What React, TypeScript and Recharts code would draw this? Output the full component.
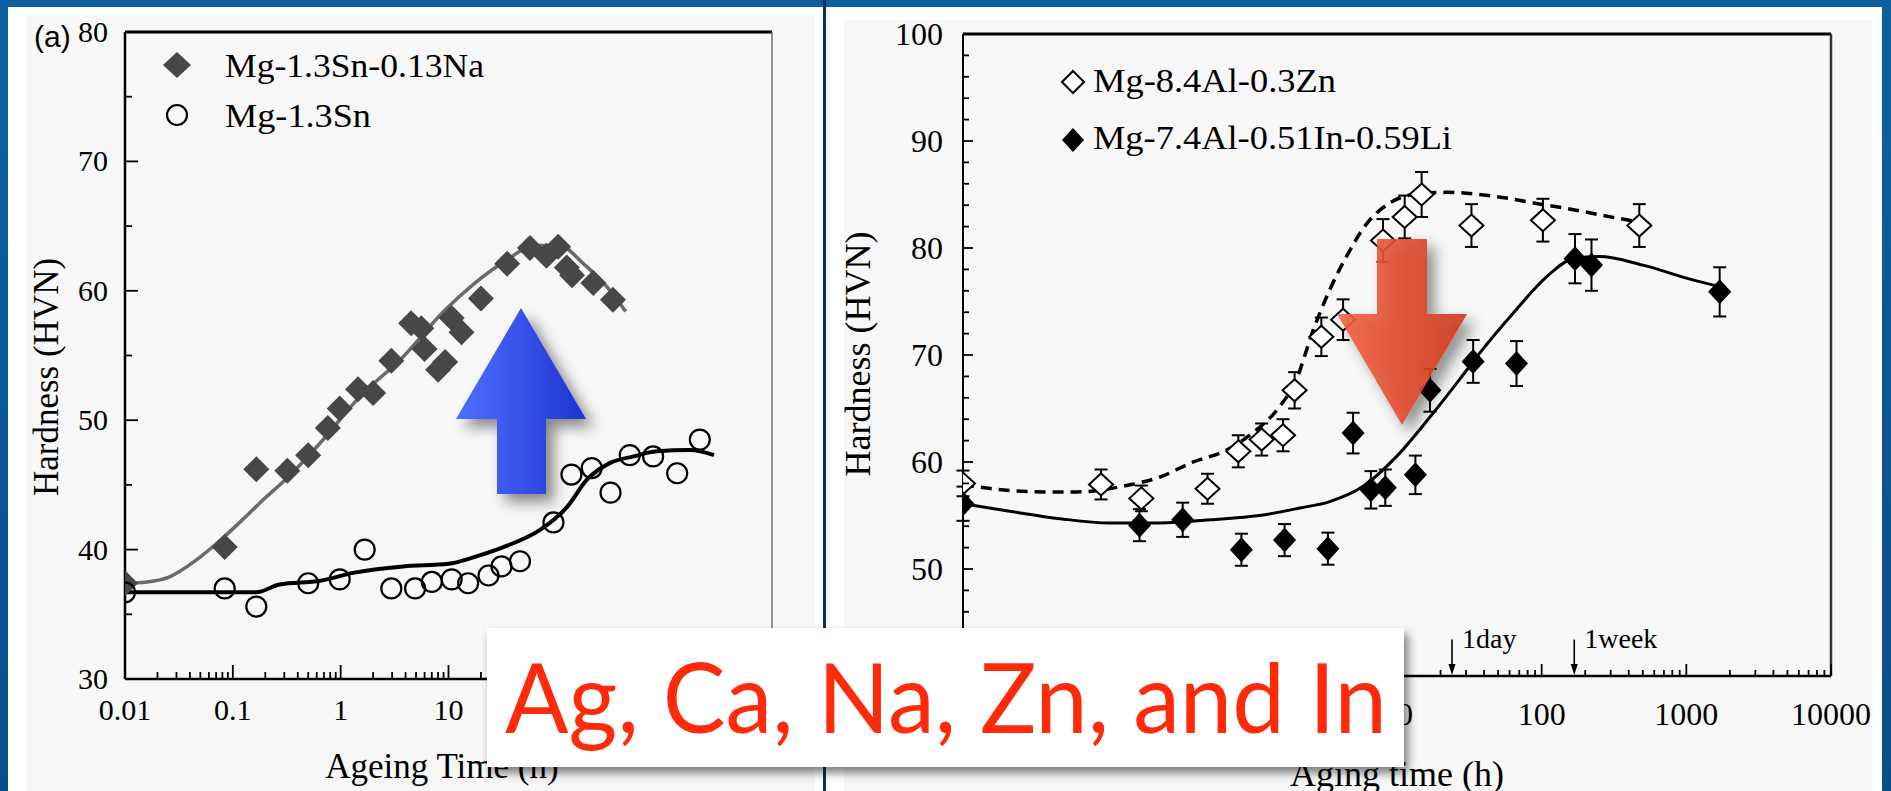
import React from "react";
import { ComposedChart, Line, Scatter, XAxis, YAxis, ErrorBar, ReferenceLine, Legend } from "recharts";

const SERIF = '"Liberation Serif", "Times New Roman", serif';
const SANS = '"Liberation Sans", Arial, sans-serif';

// Mg-1.3Sn-0.13Na: measured hardness vs ageing time (h)
const naTime = [0.01, 0.084, 0.165, 0.32, 0.5, 0.76, 0.98, 1.45, 2.0, 2.95, 4.5, 5.6, 6.0, 8.0, 9.3, 10.7, 13.2, 20, 35, 57, 81, 104, 125, 140, 220, 335];
const naHv = [37.4, 40.2, 46.2, 46.1, 47.3, 49.4, 50.9, 52.4, 52.1, 54.6, 57.5, 57.1, 55.5, 53.9, 54.5, 57.9, 56.8, 59.4, 62.1, 63.3, 62.7, 63.4, 61.8, 61.2, 60.6, 59.3];
const naFitTime = [0.01, 0.016, 0.026, 0.046, 0.076, 0.13, 0.2, 0.29, 0.64, 1.5, 3.8, 9, 17, 35, 62, 107, 178, 295, 440];
const naFitHv = [37.4, 37.5, 37.9, 39.2, 40.7, 42.5, 44.0, 45.2, 48.2, 51.8, 54.9, 58.4, 60.5, 62.4, 63.5, 63.5, 62.1, 60.3, 58.4];

// Mg-1.3Sn
const snTime = [0.01, 0.084, 0.165, 0.5, 0.98, 1.67, 2.95, 4.9, 7.0, 10.7, 15.2, 23.5, 31, 46, 94, 138, 213, 318, 480, 790, 1320, 2140];
const snHv = [36.7, 37.0, 35.6, 37.4, 37.7, 40.0, 37.0, 37.0, 37.5, 37.7, 37.4, 38.0, 38.7, 39.1, 42.1, 45.8, 46.3, 44.4, 47.3, 47.2, 45.9, 48.5];
const snFitTime = [0.01, 0.165, 0.27, 0.65, 1.3, 3.8, 10, 17, 35, 70, 126, 192, 316, 520, 850, 1740, 2900];
const snFitHv = [36.7, 36.7, 37.3, 37.6, 38.2, 38.7, 38.9, 39.4, 40.3, 41.5, 43.3, 45.4, 46.7, 47.2, 47.6, 47.7, 47.3];

// Mg-8.4Al-0.3Zn (with error bars)
const znTime = [0.01, 0.09, 0.171, 0.49, 0.8, 1.16, 1.63, 1.96, 3.0, 4.24, 8.0, 11.3, 14.8, 32.7, 102, 473];
const znHv = [58.0, 57.9, 56.6, 57.5, 61.0, 62.1, 62.5, 66.7, 71.7, 73.3, 80.7, 82.9, 85.0, 82.1, 82.6, 82.1];
const znErr = [1.2, 1.4, 1.2, 1.4, 1.5, 1.5, 1.5, 1.7, 1.8, 1.9, 2.0, 2.0, 2.1, 2.0, 2.0, 2.0];
const znFitTime = [0.01, 0.016, 0.036, 0.061, 0.135, 0.23, 0.39, 0.66, 1.0, 1.55, 2.0, 2.63, 3.43, 4.47, 6.2, 8.9, 12.9, 22, 48.7, 108, 148, 330, 550];
const znFitHv = [57.9, 57.5, 57.2, 57.2, 57.8, 58.6, 60.0, 61.1, 62.7, 65.2, 67.6, 72.3, 76.1, 79.2, 82.3, 84.2, 85.0, 85.2, 84.8, 84.0, 83.7, 82.8, 82.3];

// Mg-7.4Al-0.51In-0.59Li
const liTime = [0.01, 0.166, 0.33, 0.84, 1.67, 3.33, 4.97, 6.6, 8.3, 13.4, 16.9, 33.6, 67, 170, 221, 1700];
const liHv = [56.1, 54.1, 54.6, 51.8, 52.7, 51.9, 62.7, 57.4, 57.6, 58.8, 66.7, 69.4, 69.2, 79.0, 78.4, 75.9];
const liErr = [1.6, 1.5, 1.6, 1.5, 1.5, 1.5, 1.9, 1.75, 1.7, 1.8, 2.0, 2.0, 2.1, 2.3, 2.4, 2.3];
const liFitTime = [0.01, 0.021, 0.047, 0.103, 0.23, 0.51, 1.12, 2.13, 3.43, 5.8, 9.9, 16.9, 27, 37.4, 63.5, 108, 165, 251, 500, 1120, 1700];
const liFitHv = [56.1, 55.4, 54.7, 54.3, 54.3, 54.6, 55.0, 55.7, 56.3, 57.7, 60.5, 64.2, 67.7, 70.2, 73.9, 77.3, 79.0, 79.2, 78.4, 77.0, 76.4];

// axes
const DECADES = [0.01, 0.1, 1, 10, 100, 1000, 10000];
const DECADE_LABELS = ["0.01", "0.1", "1", "10", "100", "1000", "10000"];
const MINOR_STEPS = [2, 3, 4, 5, 6, 7, 8, 9];
const X_TICKS = [
  ...DECADES,
  ...DECADES.slice(0, -1).flatMap((d) => MINOR_STEPS.map((m) => +(m * d).toPrecision(3))),
].sort((a, b) => a - b);
const LEFT_Y_TICKS = [30, 35, 40, 45, 50, 55, 60, 65, 70, 75, 80];
const RIGHT_Y_TICKS = [40, 42, 44, 46, 48, 50, 52, 54, 56, 58, 60, 62, 64, 66, 68, 70, 72, 74, 76, 78, 80, 82, 84, 86, 88, 90, 92, 94, 96, 98, 100];
// labels that sit under the caption box are left out
const LEFT_X_UNLABELED = [100, 1000, 10000];
const RIGHT_X_UNLABELED = [0.01, 0.1, 1];
const RIGHT_Y_UNLABELED = [40];
const MARK_TIMES = [24, 168];
const MARK_LABELS = ["1day", "1week"];

const pts = (t: number[], hv: number[], err?: number[]) =>
  t.map((v, i) => ({ t: v, hv: hv[i], err: err ? err[i] : 0 }));

const naPts = pts(naTime, naHv);
const naFit = pts(naFitTime, naFitHv);
const snPts = pts(snTime, snHv);
const snFit = pts(snFitTime, snFitHv);
const znPts = pts(znTime, znHv, znErr);
const znFit = pts(znFitTime, znFitHv);
const liPts = pts(liTime, liHv, liErr);
const liFit = pts(liFitTime, liFitHv);

const TICK_MARGIN = 10;

function XTick(props: any) {
  const { x = 0, y = 0, payload, majorLen, minorLen, fontSize, baseline, unlabeled = [] } = props;
  const v = payload.value;
  const idx = DECADES.findIndex((d) => Math.abs(d - v) / d < 1e-6);
  const axisY = y - TICK_MARGIN;
  const showLabel = idx >= 0 && !unlabeled.includes(DECADES[idx]);
  return (
    <g>
      <line x1={x} x2={x} y1={axisY} y2={axisY - (idx >= 0 ? majorLen : minorLen)} stroke="#000" strokeWidth={1.8} />
      {showLabel && (
        <text x={x} y={axisY + baseline} textAnchor="middle" fontFamily={SERIF} fontSize={fontSize} fill="#000">
          {DECADE_LABELS[idx]}
        </text>
      )}
    </g>
  );
}

function YTick(props: any) {
  const { x = 0, y = 0, payload, gap, majorLen, minorLen, fontSize, unlabeled = [] } = props;
  const v = payload.value;
  const major = v % 10 === 0;
  const axisX = x + gap;
  return (
    <g>
      <line x1={axisX} x2={axisX + (major ? majorLen : minorLen)} y1={y} y2={y} stroke="#000" strokeWidth={1.8} />
      {major && !unlabeled.includes(v) && (
        <text x={x} y={y + fontSize * 0.33} textAnchor="end" fontFamily={SERIF} fontSize={fontSize} fill="#000">
          {v}
        </text>
      )}
    </g>
  );
}

const diamond = (hw: number, hh: number, fill: string, stroke: string, sw: number) => (p: any) =>
  (
    <polygon
      points={`${p.cx},${p.cy - hh} ${p.cx + hw},${p.cy} ${p.cx},${p.cy + hh} ${p.cx - hw},${p.cy}`}
      fill={fill}
      stroke={stroke}
      strokeWidth={sw}
    />
  );

const ring = (p: any) => <circle cx={p.cx} cy={p.cy} r={10} fill="none" stroke="#000" strokeWidth={2.2} />;

function TimeMark(props: any) {
  const { x1, y1, y2, label } = props;
  return (
    <g>
      <line x1={x1} x2={x1} y1={y1} y2={y2 - 8} stroke="#000" strokeWidth={1.6} />
      <polygon points={`${x1 - 3.5},${y2 - 12} ${x1 + 3.5},${y2 - 12} ${x1},${y2 - 1}`} fill="#000" />
      <text x={x1 + 10} y={y1 + 8} fontFamily={SERIF} fontSize={28} fill="#000">
        {label}
      </text>
    </g>
  );
}

function LeftLegend() {
  return (
    <svg width={360} height={100} style={{ display: "block", overflow: "visible" }}>
      <polygon points="17,12 31,25 17,38 3,25" fill="#474747" />
      <text x={65} y={37} fontFamily={SERIF} fontSize={34} textLength={259} lengthAdjust="spacingAndGlyphs">
        Mg-1.3Sn-0.13Na
      </text>
      <circle cx={17} cy={75} r={10} fill="none" stroke="#000" strokeWidth={2.2} />
      <text x={65} y={87} fontFamily={SERIF} fontSize={34} textLength={146} lengthAdjust="spacingAndGlyphs">
        Mg-1.3Sn
      </text>
    </svg>
  );
}

function RightLegend() {
  return (
    <svg width={420} height={120} style={{ display: "block", overflow: "visible" }}>
      <polygon points="17,21 28,32 17,43 6,32" fill="#fff" stroke="#000" strokeWidth={2} />
      <text x={37} y={42} fontFamily={SERIF} fontSize={33} textLength={243} lengthAdjust="spacingAndGlyphs">
        Mg-8.4Al-0.3Zn
      </text>
      <polygon points="17,78 28,90 17,102 6,90" fill="#000" />
      <text x={37} y={99} fontFamily={SERIF} fontSize={33} textLength={359} lengthAdjust="spacingAndGlyphs">
        Mg-7.4Al-0.51In-0.59Li
      </text>
    </svg>
  );
}

function LeftChart() {
  return (
    <ComposedChart width={830} height={791} margin={{ top: 32, right: 58, bottom: 52, left: 65 }}>
      <XAxis
        dataKey="t"
        type="number"
        scale="log"
        domain={[0.01, 10000]}
        allowDataOverflow
        ticks={X_TICKS}
        interval={0}
        height={60}
        tickSize={0}
        tickMargin={TICK_MARGIN}
        tickLine={false}
        axisLine={{ stroke: "#000", strokeWidth: 2.5 }}
        tick={(p: any) => (
          <XTick {...p} majorLen={14} minorLen={7} fontSize={30} baseline={41} unlabeled={LEFT_X_UNLABELED} />
        )}
      />
      <YAxis
        dataKey="hv"
        type="number"
        domain={[30, 80]}
        allowDataOverflow
        ticks={LEFT_Y_TICKS}
        interval={0}
        width={60}
        tickSize={0}
        tickMargin={17}
        tickLine={false}
        axisLine={{ stroke: "#000", strokeWidth: 2.5 }}
        tick={(p: any) => <YTick {...p} gap={17} majorLen={13} minorLen={7} fontSize={30} />}
      />
      <ReferenceLine y={80} stroke="#000" strokeWidth={3} />
      <ReferenceLine x={10000} stroke="#6f6f6f" strokeWidth={1.5} />
      <Line data={naFit} dataKey="hv" type="monotone" stroke="#6a6a6a" strokeWidth={3.5} dot={false} activeDot={false} isAnimationActive={false} />
      <Line data={snFit} dataKey="hv" type="monotone" stroke="#000" strokeWidth={4} dot={false} activeDot={false} isAnimationActive={false} />
      <Scatter data={naPts} dataKey="hv" shape={diamond(13, 13, "#474747", "none", 0)} isAnimationActive={false} />
      <Scatter data={snPts} dataKey="hv" shape={ring} isAnimationActive={false} />
      <Legend
        layout="vertical"
        align="center"
        verticalAlign="middle"
        content={() => <LeftLegend />}
        wrapperStyle={{ left: 160, top: 40, width: 360, height: 100 }}
      />
    </ComposedChart>
  );
}

function RightChart() {
  return (
    <ComposedChart width={1056} height={791} margin={{ top: 34, right: 51, bottom: 55, left: 77 }}>
      <XAxis
        dataKey="t"
        type="number"
        scale="log"
        domain={[0.01, 10000]}
        allowDataOverflow
        ticks={X_TICKS}
        interval={0}
        height={60}
        tickSize={0}
        tickMargin={TICK_MARGIN}
        tickLine={false}
        axisLine={{ stroke: "#000", strokeWidth: 2.5 }}
        tick={(p: any) => (
          <XTick {...p} majorLen={12} minorLen={6} fontSize={32} baseline={49} unlabeled={RIGHT_X_UNLABELED} />
        )}
      />
      <YAxis
        dataKey="hv"
        type="number"
        domain={[40, 100]}
        allowDataOverflow
        ticks={RIGHT_Y_TICKS}
        interval={0}
        width={60}
        tickSize={0}
        tickMargin={20}
        tickLine={false}
        axisLine={{ stroke: "#000", strokeWidth: 2 }}
        tick={(p: any) => (
          <YTick {...p} gap={20} majorLen={10} minorLen={6} fontSize={32} unlabeled={RIGHT_Y_UNLABELED} />
        )}
      />
      <ReferenceLine y={100} stroke="#000" strokeWidth={3} />
      <ReferenceLine x={10000} stroke="#333" strokeWidth={2.5} />
      {MARK_TIMES.map((t, i) => (
        <ReferenceLine
          key={t}
          segment={[
            { x: t, y: 43.4 },
            { x: t, y: 40 },
          ]}
          shape={(p: any) => <TimeMark {...p} label={MARK_LABELS[i]} />}
        />
      ))}
      <Line data={znFit} dataKey="hv" type="monotone" stroke="#000" strokeWidth={3.5} strokeDasharray="11 7" dot={false} activeDot={false} isAnimationActive={false} />
      <Line data={liFit} dataKey="hv" type="monotone" stroke="#000" strokeWidth={3} dot={false} activeDot={false} isAnimationActive={false} />
      <Scatter data={znPts} dataKey="hv" shape={diamond(12, 11, "#fff", "#000", 2)} isAnimationActive={false}>
        <ErrorBar dataKey="err" direction="y" width={6.5} stroke="#000" strokeWidth={2} isAnimationActive={false} />
      </Scatter>
      <Scatter data={liPts} dataKey="hv" shape={diamond(11.5, 12.5, "#000", "none", 0)} isAnimationActive={false}>
        <ErrorBar dataKey="err" direction="y" width={6.5} stroke="#000" strokeWidth={2} isAnimationActive={false} />
      </Scatter>
      <Legend
        layout="vertical"
        align="center"
        verticalAlign="middle"
        content={() => <RightLegend />}
        wrapperStyle={{ left: 230, top: 50, width: 420, height: 120 }}
      />
    </ComposedChart>
  );
}

export default function App() {
  return (
    <div
      style={{
        position: "absolute",
        left: 0,
        top: 0,
        width: 1891,
        height: 791,
        overflow: "hidden",
        background: "linear-gradient(180deg, #0e5f9f 0%, #0a4f8c 100%)",
      }}
    >
      {/* panels */}
      <div style={{ position: "absolute", left: 8, top: 7, width: 815, height: 784, background: "#fff" }} />
      <div style={{ position: "absolute", left: 26, top: 15, width: 789, height: 776, background: "#f7f7f7" }} />
      <div style={{ position: "absolute", left: 823, top: 0, width: 3, height: 791, background: "#0a2f5a" }} />
      <div style={{ position: "absolute", left: 826, top: 7, width: 1056, height: 784, background: "#fff" }} />
      <div style={{ position: "absolute", left: 844, top: 20, width: 1028, height: 771, background: "#f7f7f7" }} />

      <div style={{ position: "absolute", left: 0, top: 0 }}>
        <LeftChart />
      </div>
      <div style={{ position: "absolute", left: 826, top: 0 }}>
        <RightChart />
      </div>

      <svg width={1891} height={791} style={{ position: "absolute", left: 0, top: 0, pointerEvents: "none" }}>
        <defs>
          <linearGradient id="blueArrow" x1="0" x2="1" y1="0" y2="0">
            <stop offset="0" stopColor="#4f70ff" />
            <stop offset="1" stopColor="#1e33cf" />
          </linearGradient>
          <linearGradient id="redArrow" x1="0" x2="1" y1="0" y2="0">
            <stop offset="0" stopColor="#f26444" />
            <stop offset="1" stopColor="#cf3a1c" />
          </linearGradient>
          <filter id="arrowShadow" x="-30%" y="-30%" width="180%" height="180%">
            <feDropShadow dx="8" dy="8" stdDeviation="7" floodColor="#000" floodOpacity="0.45" />
          </filter>
          <filter id="boxShadow" x="-10%" y="-20%" width="125%" height="150%">
            <feDropShadow dx="4" dy="6" stdDeviation="5" floodColor="#000" floodOpacity="0.5" />
          </filter>
        </defs>

        {/* panel tag and axis titles */}
        <text x={34} y={47} fontFamily={SANS} fontSize={30} fill="#000">
          (a)
        </text>
        <text transform="translate(58 377) rotate(-90)" textAnchor="middle" fontFamily={SERIF} fontSize={35} fill="#000">
          Hardness (HVN)
        </text>
        <text x={442} y={778} textAnchor="middle" fontFamily={SERIF} fontSize={35} fill="#000">
          Ageing Time (h)
        </text>
        <text transform="translate(870 354) rotate(-90)" textAnchor="middle" fontFamily={SERIF} fontSize={36} fill="#000">
          Hardness (HVN)
        </text>
        <text x={1397} y={786} textAnchor="middle" fontFamily={SERIF} fontSize={36} fill="#000">
          Aging time (h)
        </text>

        {/* arrows */}
        <polygon
          points="521,308 586,419 546,419 546,494 497,494 497,419 456,419"
          fill="url(#blueArrow)"
          filter="url(#arrowShadow)"
        />
        <polygon
          points="1377,239 1427,239 1427,314 1467,314 1402,425 1337,314 1377,314"
          fill="url(#redArrow)"
          fillOpacity={0.9}
          filter="url(#arrowShadow)"
        />

        {/* caption box */}
        <rect x={487} y={628} width={917} height={139} fill="#fff" filter="url(#boxShadow)" />
        <text
          x={505}
          y={733}
          fontFamily="Lato, 'Open Sans', sans-serif"
          fontSize={97}
          fill="#ff2a0a"
          textLength={882}
          lengthAdjust="spacingAndGlyphs"
        >
          Ag, Ca, Na, Zn, and In
        </text>
      </svg>
    </div>
  );
}
